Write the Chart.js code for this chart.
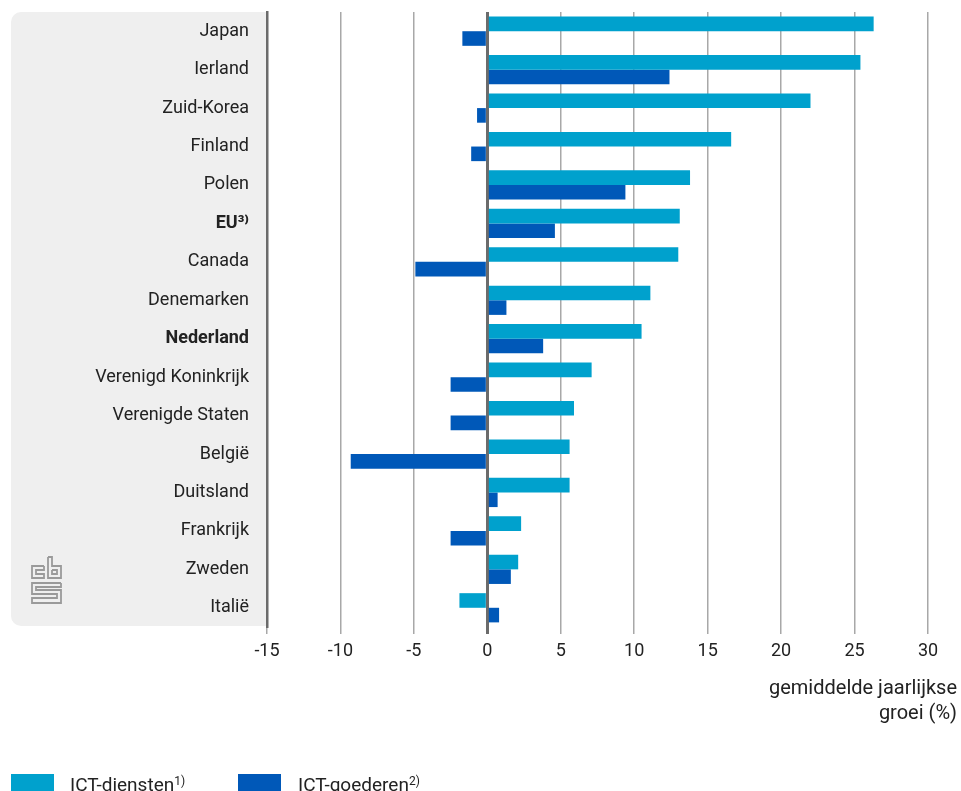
<!DOCTYPE html>
<html><head><meta charset="utf-8">
<script src="https://cdn.jsdelivr.net/npm/chart.js@4/dist/chart.umd.min.js"></script>
<style>
html,body{margin:0;padding:0;background:#fff;width:961px;height:791px;overflow:hidden;font-family:Roboto,sans-serif;}
#wrap{position:relative;width:961px;height:791px;}
canvas{position:absolute;left:0;top:0;}
.axt{position:absolute;right:4px;top:675px;text-align:right;font-size:20px;line-height:25px;color:#222;}
.leg{position:absolute;top:770px;font-size:19px;color:#222;line-height:22px;}
.leg sup{font-size:12px;vertical-align:6px;}
.sw{position:absolute;top:774px;width:43px;height:20px;}
</style></head><body>
<div id="wrap">
<canvas id="c" width="961" height="791"></canvas>
<div class="axt">gemiddelde jaarlijkse<br>groei (%)</div>
<div class="sw" style="left:11px;background:#00a1cd"></div>
<div class="leg" style="left:70px">ICT-diensten<sup>1)</sup></div>
<div class="sw" style="left:238px;background:#0058b8"></div>
<div class="leg" style="left:298px">ICT-goederen<sup>2)</sup></div>
</div>
<script>
const categories = ['Japan','Ierland','Zuid-Korea','Finland','Polen','EU³⁾','Canada','Denemarken','Nederland','Verenigd Koninkrijk','Verenigde Staten','België','Duitsland','Frankrijk','Zweden','Italië'];
const ictDiensten = [26.3,25.4,22.0,16.6,13.8,13.1,13.0,11.1,10.5,7.1,5.9,5.6,5.6,2.3,2.1,-1.9];
const ictGoederen = [-1.7,12.4,-0.7,-1.1,9.4,4.6,-4.9,1.3,3.8,-2.5,-2.5,-9.3,0.7,-2.5,1.6,0.8];
const seriesNames = ['ICT-diensten', 'ICT-goederen'];
const xMin = -15, xMax = 30, xStep = 5;
const boldCategories = ['EU³⁾','Nederland'];

const bgBox = {
  id:'bgBox',
  beforeDraw(chart){
    const {ctx, chartArea:a} = chart;
    const x0 = 11, x1 = a.left, y0 = a.top, y1 = a.bottom - 1, r = 10;
    ctx.save();
    ctx.fillStyle = '#efefef';
    ctx.beginPath();
    ctx.moveTo(x1, y0);
    ctx.lineTo(x0 + r, y0);
    ctx.arcTo(x0, y0, x0, y0 + r, r);
    ctx.lineTo(x0, y1 - r);
    ctx.arcTo(x0, y1, x0 + r, y1, r);
    ctx.lineTo(x1, y1);
    ctx.closePath();
    ctx.fill();
    // cbs logo
    ctx.strokeStyle = '#9a9a9a';
    ctx.lineWidth = 1.8;
    const L = 32, T = 557;
    const P = (pts)=>{ctx.beginPath();ctx.moveTo(L+pts[0][0],T+pts[0][1]);for(let i=1;i<pts.length;i++)ctx.lineTo(L+pts[i][0],T+pts[i][1]);ctx.stroke();};
    P([[12,9],[0,9],[0,21],[12,21],[12,17],[4,17],[4,13],[12,13],[12,9]]);
    P([[16,0],[16,21],[29,21],[29,9],[20,9],[20,0],[16,0]]);
    P([[20,13],[25,13],[25,17],[20,17],[20,13]]);
    P([[29,26],[0,26],[0,37],[25,37],[25,41],[0,41],[0,46],[29,46],[29,33],[4,33],[4,30],[29,30],[29,26]]);
    ctx.restore();
  }
};

new Chart(document.getElementById('c'), {
  type:'bar',
  data:{
    labels: categories,
    datasets:[
      {label:seriesNames[0], data:ictDiensten, backgroundColor:'#00a1cd', borderWidth:0},
      {label:seriesNames[1], data:ictGoederen, backgroundColor:'#0058b8', borderWidth:0}
    ]
  },
  options:{
    indexAxis:'y',
    responsive:false,
    animation:false,
    devicePixelRatio:1,
    categoryPercentage:0.76,
    barPercentage:1.0,
    layout:{padding:{top:12,left:0,right:33,bottom:0}},
    plugins:{legend:{display:false}, tooltip:{enabled:false}},
    scales:{
      x:{
        min:xMin, max:xMax,
        ticks:{stepSize:xStep, color:'#222', font:{family:'Roboto', size:18}, padding:7},
        grid:{
          color:c=> c.tick && c.tick.value===0 ? '#6b6b6b' : '#a8a8a8',
          lineWidth:c=> c.tick && c.tick.value===0 ? 3 : 1.5,
          tickLength:7, drawTicks:true
        },
        border:{display:false},
        afterFit:s=>{ s.height = 164; s.paddingLeft = 0; s.paddingRight = 0; }
      },
      y:{
        grid:{display:false, drawTicks:false},
        border:{display:true, color:'#6b6b6b', width:2.5},
        ticks:{
          color:'#222', padding:18,
          font:c=>({family:'Roboto', size:18, weight: boldCategories.includes(categories[c.index]) ? 'bold' : 'normal'})
        },
        afterFit:s=>{ s.width = 267; s.paddingTop = 0; s.paddingBottom = 0; }
      }
    }
  },
  plugins:[bgBox]
});
</script>
</body></html>
